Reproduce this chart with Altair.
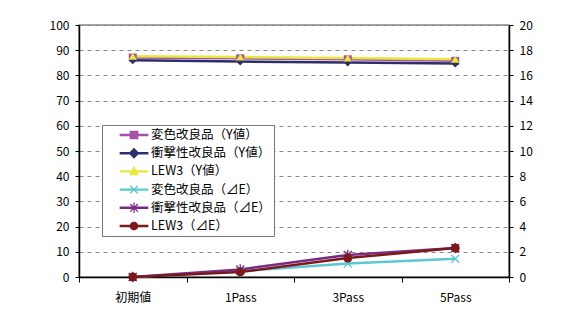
import math
import altair as alt
import pandas as pd

categories = ["初期値", "1Pass", "3Pass", "5Pass"]

y_series = ["変色改良品（Y値）", "衝撃性改良品（Y値）", "LEW3（Y値）"]
y_henshoku = [87.1, 86.8, 86.4, 85.8]
y_shogeki = [86.0, 85.5, 85.1, 84.7]
y_lew3 = [87.6, 87.3, 86.9, 86.4]

d_series = ["変色改良品（⊿E）", "衝撃性改良品（⊿E）", "LEW3（⊿E）"]
d_henshoku = [0.0, 0.45, 1.07, 1.45]
d_shogeki = [0.0, 0.6, 1.75, 2.3]
d_lew3 = [0.0, 0.4, 1.5, 2.3]

all_series = y_series + d_series
colors = ["#a452a6", "#2e2e68", "#e8e840", "#5cc8d0", "#7a2a84", "#7a1a1a"]

FONT = "Noto Sans CJK JP"

rows = []
for s, vals in zip(y_series, [y_henshoku, y_shogeki, y_lew3]):
    for c, v in zip(categories, vals):
        rows.append({"cat": c, "series": s, "val": v})
ydf = pd.DataFrame(rows)
rows = []
for s, vals in zip(d_series, [d_henshoku, d_shogeki, d_lew3]):
    for c, v in zip(categories, vals):
        rows.append({"cat": c, "series": s, "val": v})
ddf = pd.DataFrame(rows)

xenc = alt.X("cat:N", sort=categories, title=None,
             scale=alt.Scale(paddingInner=0, paddingOuter=0),
             axis=alt.Axis(labelAngle=0, labelFont=FONT, labelFontSize=12, labelColor="#000",
                           labelPadding=10, tickBand="extent", tickSize=5, tickColor="#000",
                           domainColor="#000", domainWidth=1.5, grid=False))


def color_enc(domain, rng):
    return alt.Color("series:N", scale=alt.Scale(domain=domain, range=rng), legend=None)


yenc = alt.Y("val:Q", title=None, scale=alt.Scale(domain=[0, 100], nice=False),
             axis=alt.Axis(orient="left", values=list(range(0, 101, 10)), labelFont=FONT,
                           labelFontSize=12, labelColor="#000", labelPadding=6, tickSize=4,
                           tickColor="#000", domainColor="#000", domainWidth=1.5,
                           grid=True, gridDash=[4, 4], gridColor="#888", gridWidth=1))

ycol = color_enc(y_series, colors[:3])
left = alt.layer(
    alt.Chart(ydf).mark_line(strokeWidth=2.5).encode(x=xenc, y=yenc, color=ycol,
        detail="series:N"),
    alt.Chart(ydf).mark_point(filled=True, opacity=1, size=64).encode(
        x=xenc, y=yenc, color=ycol,
        shape=alt.Shape("series:N", scale=alt.Scale(domain=y_series,
                        range=["square", "diamond", "triangle-up"]), legend=None)),
)

denc = alt.Y("val:Q", title=None, scale=alt.Scale(domain=[0, 20], nice=False),
             axis=alt.Axis(orient="right", values=list(range(0, 21, 2)), labelFont=FONT,
                           labelFontSize=12, labelColor="#000", labelPadding=6, tickSize=4,
                           tickColor="#000", domainColor="#000", domainWidth=1.5, grid=False))

dcol = color_enc(d_series, colors[3:])
X_PATH = "M-1,-1L1,1M-1,1L1,-1"
AST_PATH = "M-1,-1L1,1M-1,1L1,-1M0,-1.3L0,1.3"
right = alt.layer(
    alt.Chart(ddf).mark_line(strokeWidth=2.5).encode(x=xenc, y=denc, color=dcol,
        detail="series:N"),
    alt.Chart(ddf).transform_filter(alt.datum.series != "LEW3（⊿E）").mark_point(
        filled=False, opacity=1, size=64, strokeWidth=1.3).encode(
        x=xenc, y=denc, color=dcol,
        shape=alt.Shape("series:N", scale=alt.Scale(domain=d_series,
                        range=[X_PATH, AST_PATH, "circle"]), legend=None)),
    alt.Chart(ddf).transform_filter(alt.datum.series == "LEW3（⊿E）").mark_point(
        filled=True, opacity=1, size=80, shape="circle").encode(
        x=xenc, y=denc, color=dcol),
)


# legend symbol paths (unit = 7 px): a line through a filled marker, all clockwise
def f(v):
    return f"{v:.3f}"


def seg(x1, y1, x2, y2, t):
    dx, dy = x2 - x1, y2 - y1
    L = math.hypot(dx, dy)
    nx, ny = -dy / L * t, dx / L * t
    pts = [(x1 + nx, y1 + ny), (x2 + nx, y2 + ny), (x2 - nx, y2 - ny), (x1 - nx, y1 - ny)]
    area = sum(pts[i][0] * pts[(i + 1) % 4][1] - pts[(i + 1) % 4][0] * pts[i][1]
               for i in range(4))
    if area < 0:
        pts = pts[::-1]
    return "M" + "L".join(f"{f(x)},{f(y)}" for x, y in pts) + "Z"


LINE = seg(-2.05, 0, 2.05, 0, 0.17)
a = 0.55
leg_paths = [
    LINE + "M-0.62,-0.62H0.62V0.62H-0.62Z",
    LINE + "M0,-0.78L0.78,0L0,0.78L-0.78,0Z",
    LINE + "M0,-0.8L0.72,0.55L-0.72,0.55Z",
    LINE + seg(-a, -a, a, a, 0.09) + seg(-a, a, a, -a, 0.09),
    LINE + seg(-a, -a, a, a, 0.09) + seg(-a, a, a, -a, 0.09) + seg(0, -0.75, 0, 0.75, 0.09),
    LINE + "M0.62,0A0.62,0.62,0,1,1,-0.62,0A0.62,0.62,0,1,1,0.62,0Z",
]


def leg():
    return alt.Legend(title=None, orient="none", legendX=23, legendY=100,
                      symbolSize=196, symbolOffset=22, symbolStrokeWidth=0,
                      labelFont=FONT, labelFontSize=12.5, labelColor="#000",
                      labelOffset=10, rowPadding=4.2, padding=3,
                      labelExpr="datum.label + '  '",
                      fillColor="#ffffff", strokeColor="#777", labelLimit=300)


legend_layer = alt.Chart(ydf).transform_filter("false").mark_point(
    filled=True, opacity=1).encode(
    color=alt.Color("series:N", scale=alt.Scale(domain=all_series, range=colors), legend=leg()),
    shape=alt.Shape("series:N", scale=alt.Scale(domain=all_series, range=leg_paths), legend=leg()),
)

chart = alt.layer(left, right, legend_layer).resolve_scale(
    y="independent", shape="independent", color="independent"
).properties(
    width=430, height=252,
    padding={"left": 71, "top": 17, "right": 47, "bottom": 30},
    autosize=alt.AutoSizeParams(type="none"),
    background="white",
).configure_view(stroke="#888", strokeWidth=1.5)

chart.save("out.html", embed_options={"renderer": "svg", "actions": False})
